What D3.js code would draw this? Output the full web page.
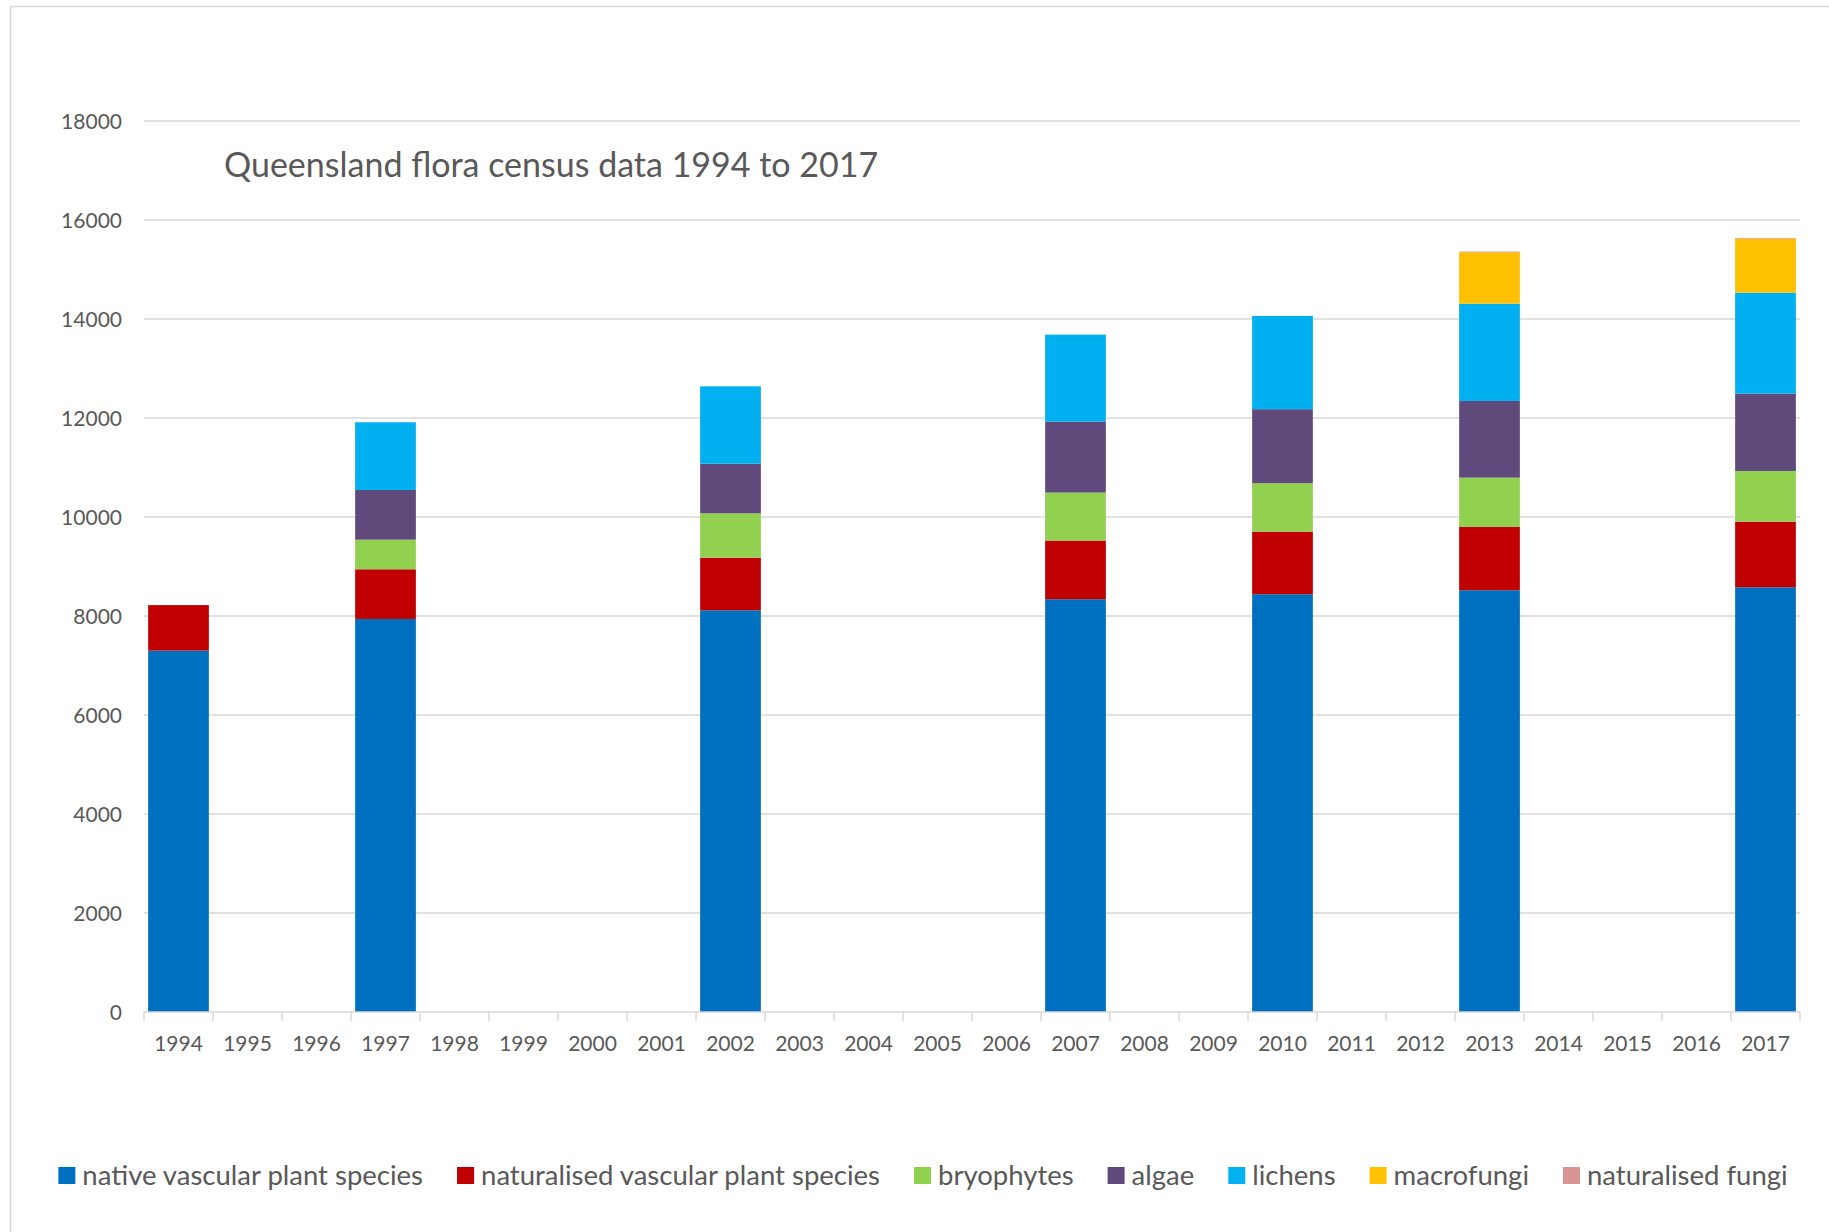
<!DOCTYPE html>
<html>
<head>
<meta charset="utf-8">
<script src="https://cdn.jsdelivr.net/npm/d3@7"></script>
<style>
  html, body { margin: 0; padding: 0; background: #fff; }
  svg { display: block; }
  text { font-family: Lato, "Open Sans", sans-serif; fill: #595959; }
</style>
</head>
<body>
<svg id="chart" width="1829" height="1232"></svg>
<script>
// ---- data ----
const years = ["1994","1995","1996","1997","1998","1999","2000","2001","2002","2003","2004","2005","2006","2007","2008","2009","2010","2011","2012","2013","2014","2015","2016","2017"];
const seriesNames = ["native vascular plant species","naturalised vascular plant species","bryophytes","algae","lichens","macrofungi","naturalised fungi"];
const seriesColors = ["#0070C0","#C00000","#92D050","#604A7B","#00B0F0","#FFC000","#D99594"];
const censusYears = ["1994","1997","2002","2007","2010","2013","2017"];
const nativeVascular     = [7300, 7940, 8115, 8340, 8440, 8520, 8580];
const naturalisedVascular= [ 920, 1004, 1063, 1184, 1265, 1279, 1326];
const bryophytes         = [   0,  598,  896,  970,  977,  996, 1024];
const algae              = [   0, 1004, 1003, 1434, 1496, 1549, 1562];
const lichens            = [   0, 1368, 1563, 1756, 1885, 1966, 2041];
const macrofungi         = [   0,    0,    0,    0,    0, 1038, 1090];
const naturalisedFungi   = [   0,    0,    0,    0,    0,   15,   15];
const yTicks = [0,2000,4000,6000,8000,10000,12000,14000,16000,18000];
const titleText = "Queensland flora census data 1994 to 2017";

const seriesValues = [nativeVascular, naturalisedVascular, bryophytes, algae, lichens, macrofungi, naturalisedFungi];
const keys = seriesNames;
const table = years.map(y => {
  const row = {year: y};
  const i = censusYears.indexOf(y);
  keys.forEach((k, s) => { row[k] = i >= 0 ? seriesValues[s][i] : 0; });
  return row;
});

// ---- layout ----
const svg = d3.select("#chart");
const L = 144, R = 1800, T = 121, B = 1012;

// chart frame
svg.append("path")
  .attr("d", `M10.5,1232 V6.5 H1829`)
  .attr("fill", "none").attr("stroke", "#d9d9d9").attr("stroke-width", 1.5);

const x = d3.scaleBand().domain(years).range([L, R]).paddingInner(0.12).paddingOuter(0.06);
const y = d3.scaleLinear().domain([0, 18000]).range([B, T]);

// gridlines
svg.append("g").selectAll("line").data(yTicks.filter(t => t > 0)).join("line")
  .attr("x1", L).attr("x2", R)
  .attr("y1", d => y(d)).attr("y2", d => y(d))
  .attr("stroke", "#d9d9d9").attr("stroke-width", 1.5);

// y axis labels
const yAxis = d3.axisLeft(y).tickValues(yTicks).tickSize(0).tickPadding(22).tickFormat(d3.format("d"));
const gy = svg.append("g").attr("transform", `translate(${L},0)`).call(yAxis);
gy.select(".domain").remove();
gy.selectAll("text").style("font-size", "21px").attr("fill", "#595959").attr("dy", "0.36em");

// bars
const stacked = d3.stack().keys(keys)(table);
svg.append("g").selectAll("g").data(stacked).join("g")
  .attr("fill", (d, i) => seriesColors[i])
  .selectAll("rect").data(d => d.filter(p => p[1] - p[0] > 0)).join("rect")
  .attr("x", d => x(d.data.year))
  .attr("width", x.bandwidth())
  .attr("y", d => y(d[1]))
  .attr("height", d => y(d[0]) - y(d[1]));

// x axis
const xBoundary = d3.scaleLinear().domain([0, years.length]).range([L, R]);
const gx = svg.append("g");
gx.append("line").attr("x1", L).attr("x2", R).attr("y1", B).attr("y2", B)
  .attr("stroke", "#d9d9d9").attr("stroke-width", 1.5);
gx.selectAll("line.tick").data(d3.range(years.length + 1)).join("line")
  .attr("class", "tick")
  .attr("x1", d => xBoundary(d)).attr("x2", d => xBoundary(d))
  .attr("y1", B).attr("y2", B + 9)
  .attr("stroke", "#d9d9d9").attr("stroke-width", 1.5);
gx.selectAll("text").data(years).join("text")
  .attr("x", (d, i) => (xBoundary(i) + xBoundary(i + 1)) / 2)
  .attr("y", 1051)
  .attr("text-anchor", "middle")
  .style("font-size", "21px")
  .text(d => d);

// title
svg.append("text").attr("x", 224).attr("y", 177)
  .style("font-size", "34px").text(titleText);

// legend
const lg = svg.append("g");
const items = lg.selectAll("g").data(seriesNames).join("g");
items.append("rect").attr("width", 17).attr("height", 17).attr("y", 1167)
  .attr("fill", (d, i) => seriesColors[i]);
items.append("text").attr("x", 24).attr("y", 1185).style("font-size", "27.5px").text(d => d);
const widths = [];
items.each(function() {
  const w = d3.select(this).select("text").node().getComputedTextLength();
  widths.push(24 + w);
});
const gap = 34;
const total = d3.sum(widths) + gap * (widths.length - 1);
let start = 923 - total / 2;
items.attr("transform", (d, i) => {
  const t = `translate(${start},0)`;
  start += widths[i] + gap;
  return t;
});
</script>
</body>
</html>
